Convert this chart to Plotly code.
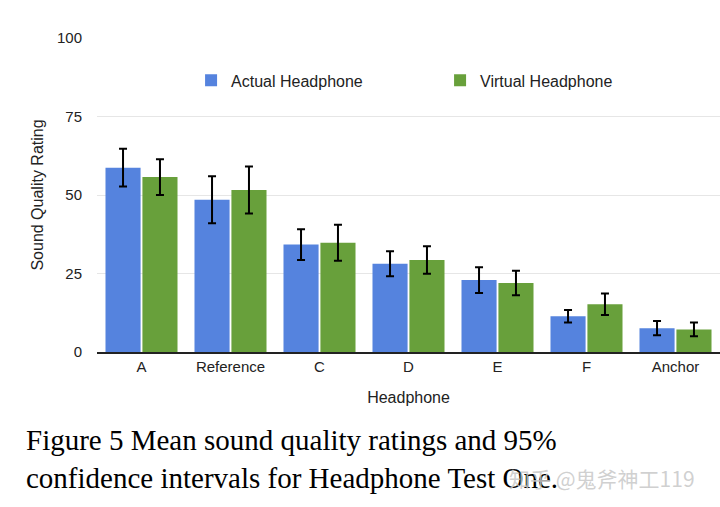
import plotly.graph_objects as go

categories = ["A", "Reference", "C", "D", "E", "F", "Anchor"]
actual_mean = [58.7, 48.5, 34.2, 28.1, 22.9, 11.4, 7.6]
actual_ci = [6.0, 7.5, 4.9, 4.0, 4.1, 2.0, 2.3]
virtual_mean = [55.7, 51.6, 34.8, 29.3, 22.0, 15.2, 7.2]
virtual_ci = [5.7, 7.5, 5.7, 4.4, 3.9, 3.4, 2.2]
y_ticks = [0, 25, 50, 75, 100]

font_sans = "Liberation Sans, Arial, Helvetica, sans-serif"

fig = go.Figure()
fig.add_trace(go.Bar(
    x=categories, y=actual_mean, name="Actual Headphone",
    marker=dict(color="#5583de", line=dict(width=0)),
    error_y=dict(type="data", array=actual_ci, color="black", thickness=2, width=4),
))
fig.add_trace(go.Bar(
    x=categories, y=virtual_mean, name="Virtual Headphone",
    marker=dict(color="#68a03b", line=dict(width=0)),
    error_y=dict(type="data", array=virtual_ci, color="black", thickness=2, width=4),
))

fig.update_layout(
    width=720, height=507,
    margin=dict(l=97, r=0, t=38, b=155),
    paper_bgcolor="white", plot_bgcolor="white",
    barmode="group", bargap=0.17, bargroupgap=0.05,
    font=dict(family=font_sans, size=15, color="#222222"),
    showlegend=True,
    legend=dict(
        orientation="h", x=0.151, y=0.865, xanchor="left", yanchor="middle",
        font=dict(size=16, color="#222222"), entrywidth=204, entrywidthmode="pixels",
        bgcolor="rgba(0,0,0,0)",
    ),
    xaxis=dict(
        title=dict(text="Headphone", font=dict(size=16), standoff=18),
        showline=True, linecolor="#222222", linewidth=2,
        ticks="", tickfont=dict(size=15),
    ),
    yaxis=dict(
        title=dict(text="Sound Quality Rating", font=dict(size=16), standoff=9),
        range=[0, 100], tickvals=y_ticks, ticks="",
        showgrid=True, gridcolor="#e6e6e6", gridwidth=1,
        zeroline=False, tickfont=dict(size=15), ticklabelstandoff=14,
    ),
)

fig.add_annotation(
    xref="paper", yref="paper", x=-0.117, y=-0.222, xanchor="left", yanchor="top",
    text="Figure 5 Mean sound quality ratings and 95%<br>confidence intervals for Headphone Test One.",
    showarrow=False, align="left",
    font=dict(family="Liberation Serif, Times New Roman, serif", size=29, color="black"),
)
fig.add_annotation(
    xref="paper", yref="paper", x=0.658, y=-0.401, xanchor="left", yanchor="middle",
    text="知乎 @鬼斧神工119", showarrow=False,
    font=dict(family="Noto Sans CJK SC, sans-serif", size=21, color="rgba(200,200,200,0.85)"),
)

fig.write_html("out.html", config={"displayModeBar": False},
               post_script="document.body.style.margin='0';")
